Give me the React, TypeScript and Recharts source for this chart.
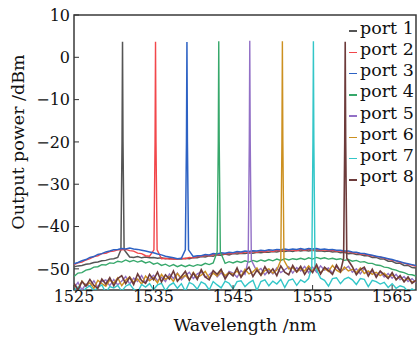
import { LineChart, Line, XAxis, YAxis, ReferenceArea } from "recharts";

// wavelength grid of the OSA traces (nm)
const wavelength = [
  1525, 1525.5, 1526, 1526.5, 1527, 1527.5, 1528, 1528.5, 1529, 1529.5,
  1530, 1530.5, 1531, 1531.5, 1532, 1532.5, 1533, 1533.5, 1534, 1534.5,
  1535, 1535.5, 1536, 1536.5, 1537, 1537.5, 1538, 1538.5, 1539, 1539.5,
  1540, 1540.5, 1541, 1541.5, 1542, 1542.5, 1543, 1543.5, 1544, 1544.5,
  1545, 1545.5, 1546, 1546.5, 1547, 1547.5, 1548, 1548.5, 1549, 1549.5,
  1550, 1550.5, 1551, 1551.5, 1552, 1552.5, 1553, 1553.5, 1554, 1554.5,
  1555, 1555.5, 1556, 1556.5, 1557, 1557.5, 1558, 1558.5, 1559, 1559.5,
  1560, 1560.5, 1561, 1561.5, 1562, 1562.5, 1563, 1563.5, 1564, 1564.5,
  1565, 1565.5, 1566, 1566.5, 1567, 1567.5, 1568,
];

const portNames = ["port 1", "port 2", "port 3", "port 4", "port 5", "port 6", "port 7", "port 8"];
const portColors = ["#555555", "#f2474b", "#2d62c4", "#37a86b", "#9270c6", "#cc9020", "#33c6c8", "#6d3b3b"];
const portWidth = [1.5, 1.4, 1.5, 1.4, 1.4, 1.4, 1.4, 1.6];

// lasing peaks
const peakWavelength = [1531.1, 1535.25, 1539.2, 1543.2, 1547.1, 1551.2, 1555.1, 1559.1];
const peakPower = [3.7, 3.7, 3.6, 3.8, 3.9, 3.8, 3.8, 3.7];
const peakSkirt = [-45.5, -45.5, -45.5, -46, -48, -48, -49.5, -47.5];
const peakMid = -20;

// noise floors (dBm), one value per wavelength point
const floorPort1 = [
  -49.5, -49.3, -49.2, -48.9, -48.8, -48.5, -48.4, -48.1, -48.0, -47.7,
  -47.6, -47.3, -47.3, -47.1, -47.2, -47.3, -47.1, -47.4, -47.2, -47.4,
  -47.3, -47.5, -47.4, -47.6, -47.5, -47.7, -47.6, -47.7, -47.5, -47.6,
  -47.3, -47.4, -47.1, -47.2, -46.9, -47.0, -46.7, -46.8, -46.5, -46.7,
  -46.4, -46.5, -46.3, -46.4, -46.2, -46.3, -46.1, -46.2, -46.0, -46.1,
  -45.9, -46.0, -45.8, -45.9, -45.7, -45.9, -45.6, -45.8, -45.6, -45.8,
  -45.6, -45.8, -45.7, -45.9, -45.8, -46.0, -45.9, -46.2, -46.1, -46.4,
  -46.3, -46.6, -46.6, -46.9, -46.9, -47.3, -47.3, -47.7, -47.7, -48.2,
  -48.2, -48.7, -48.7, -49.2, -49.2, -49.7, -49.8,
];
const floorPort2 = [
  -49.0, -48.6, -48.4, -47.9, -47.6, -47.1, -46.9, -46.4, -46.3, -45.9,
  -45.8, -45.5, -45.5, -45.4, -45.7, -45.8, -46.3, -46.4, -46.9, -47.0,
  -47.3, -47.4, -47.6, -47.5, -47.7, -47.6, -47.7, -47.5, -47.6, -47.3,
  -47.4, -47.1, -47.1, -46.8, -46.9, -46.6, -46.7, -46.4, -46.5, -46.3,
  -46.4, -46.1, -46.3, -46.0, -46.2, -45.9, -46.1, -45.8, -46.0, -45.7,
  -45.9, -45.6, -45.8, -45.5, -45.7, -45.5, -45.7, -45.4, -45.6, -45.4,
  -45.6, -45.4, -45.6, -45.5, -45.7, -45.6, -45.8, -45.8, -46.0, -46.0,
  -46.2, -46.2, -46.5, -46.5, -46.8, -46.9, -47.1, -47.2, -47.5, -47.7,
  -48.0, -48.1, -48.5, -48.6, -49.0, -49.1, -49.4,
];
const floorPort3 = [
  -48.8, -48.5, -48.1, -47.8, -47.3, -47.1, -46.6, -46.4, -46.0, -45.8,
  -45.5, -45.4, -45.2, -45.3, -45.1, -45.3, -45.4, -45.6, -45.8, -46.0,
  -46.2, -46.5, -46.7, -47.0, -47.2, -47.4, -47.6, -47.5, -47.6, -47.3,
  -47.1, -46.9, -46.9, -46.6, -46.7, -46.4, -46.5, -46.2, -46.3, -46.1,
  -46.2, -45.9, -46.0, -45.8, -45.9, -45.7, -45.8, -45.6, -45.7, -45.5,
  -45.6, -45.4, -45.5, -45.3, -45.5, -45.3, -45.4, -45.2, -45.4, -45.2,
  -45.3, -45.2, -45.4, -45.3, -45.5, -45.4, -45.6, -45.6, -45.8, -45.8,
  -46.0, -46.1, -46.3, -46.4, -46.6, -46.8, -47.0, -47.2, -47.4, -47.6,
  -47.8, -48.1, -48.3, -48.6, -48.8, -49.0, -49.2,
];
const floorPort4 = [
  -51.8, -51.0, -50.9, -50.3, -50.1, -49.6, -49.5, -49.0, -49.1, -48.6,
  -48.7, -48.2, -48.4, -47.9, -48.3, -48.0, -48.4, -48.1, -48.6, -48.3,
  -48.9, -48.6, -49.2, -48.9, -49.4, -49.0, -49.5, -49.1, -49.5, -49.1,
  -49.4, -49.0, -49.2, -48.7, -49.0, -48.6, -48.8, -48.5, -48.7, -48.3,
  -48.6, -48.2, -48.5, -48.1, -48.4, -48.0, -48.3, -47.9, -48.2, -47.8,
  -48.1, -47.7, -48.0, -47.6, -47.9, -47.6, -47.8, -47.5, -47.8, -47.4,
  -47.7, -47.3, -47.6, -47.4, -47.7, -47.5, -47.8, -47.6, -48.0, -47.8,
  -48.2, -48.0, -48.4, -48.3, -48.7, -48.7, -49.1, -49.2, -49.6, -49.7,
  -50.1, -50.3, -50.7, -50.9, -51.3, -51.4, -51.7,
];
const floorPort5 = [
  -54.5, -53.2, -55.0, -53.6, -54.2, -52.8, -54.4, -53.0, -52.6, -54.0,
  -52.5, -53.8, -52.9, -51.8, -53.6, -52.2, -53.0, -51.6, -53.2, -52.4,
  -51.5, -52.8, -52.0, -53.0, -51.2, -52.3, -51.0, -52.6, -51.6, -50.8,
  -52.3, -51.2, -50.7, -52.0, -51.4, -50.5, -51.9, -50.9, -52.1, -50.6,
  -51.0, -52.0, -50.4, -51.3, -50.2, -51.7, -50.6, -49.9, -51.4, -50.3,
  -51.2, -49.8, -50.9, -50.2, -49.5, -51.0, -49.7, -50.5, -49.4, -50.9,
  -49.6, -50.8, -49.3, -50.3, -49.8, -51.0, -49.5, -50.6, -50.1, -49.4,
  -50.8, -50.0, -51.2, -49.9, -51.0, -50.6, -51.5, -50.7, -51.9, -51.1,
  -52.2, -51.3, -52.6, -51.8, -53.0, -52.3, -53.2,
];
const floorPort6 = [
  -53.8, -54.7, -52.9, -54.0, -53.3, -54.6, -52.7, -53.5, -54.1, -52.6,
  -53.4, -52.1, -54.0, -52.7, -51.9, -53.2, -52.4, -53.6, -51.7, -52.8,
  -52.1, -53.3, -51.3, -52.5, -51.8, -53.0, -51.1, -52.2, -51.5, -52.6,
  -50.8, -52.0, -51.5, -50.6, -52.2, -51.0, -51.7, -50.4, -51.6, -50.9,
  -51.3, -50.5, -51.8, -50.1, -51.2, -50.7, -49.8, -51.5, -50.4, -50.0,
  -51.0, -50.3, -49.6, -51.2, -50.0, -49.7, -50.8, -49.9, -50.5, -49.3,
  -50.4, -49.7, -51.0, -49.9, -50.6, -49.2, -50.3, -50.9, -49.6, -50.5,
  -50.1, -50.9, -49.8, -51.1, -50.5, -51.3, -50.8, -51.6, -51.0, -51.9,
  -51.4, -52.4, -51.9, -52.8, -52.3, -53.1, -52.9,
];
const floorPort7 = [
  -55.0, -54.3, -55.5, -54.6, -54.0, -55.2, -54.4, -53.8, -55.6, -54.2,
  -54.5, -53.9, -55.3, -54.1, -53.6, -54.8, -55.5, -53.7, -54.3, -53.5,
  -54.9, -53.8, -53.4, -55.2, -53.9, -53.3, -54.6, -53.5, -55.3, -53.2,
  -53.7, -54.8, -53.1, -53.6, -55.0, -53.0, -53.8, -54.5, -52.9, -53.4,
  -54.7, -53.0, -52.8, -54.2, -53.3, -52.7, -55.1, -53.0, -52.6, -54.0,
  -52.9, -53.6, -52.5, -54.4, -52.7, -52.4, -53.9, -52.6, -53.2, -52.3,
  -52.5, -53.8, -52.2, -52.7, -54.1, -52.3, -52.1, -53.5, -52.4, -52.0,
  -52.6, -53.7, -52.3, -52.5, -54.2, -52.7, -53.0, -53.6, -53.2, -54.4,
  -53.5, -54.6, -54.0, -54.3, -55.4, -54.7, -55.3,
];
const floorPort8 = [
  -53.4, -55.0, -53.0, -54.1, -52.5, -53.9, -54.6, -52.4, -53.6, -52.1,
  -54.0, -52.3, -51.6, -53.5, -52.0, -53.7, -51.2, -52.8, -53.4, -51.3,
  -52.6, -50.8, -53.1, -51.4, -52.4, -50.5, -52.9, -51.8, -50.6, -52.7,
  -51.0, -52.5, -50.2, -51.9, -52.6, -50.4, -51.3, -50.1, -52.4, -50.9,
  -51.7, -49.8, -52.0, -50.6, -49.6, -51.8, -50.3, -51.5, -49.5, -51.1,
  -50.0, -51.6, -49.3, -50.8, -51.4, -49.2, -50.7, -49.4, -51.3, -49.8,
  -50.9, -49.0, -51.2, -49.6, -50.4, -51.3, -49.1, -50.6, -49.7, -51.0,
  -49.5, -51.4, -50.2, -49.6, -51.7, -50.1, -52.0, -50.5, -51.4, -52.3,
  -50.9, -52.6, -51.6, -53.1, -51.9, -53.4, -52.7,
];
const floors = [floorPort1, floorPort2, floorPort3, floorPort4, floorPort5, floorPort6, floorPort7, floorPort8];

const xTicks = [1525, 1535, 1545, 1555, 1565];
const yTicks = [-50, -40, -30, -20, -10, 0, 10];

const serif = "'DejaVu Serif', serif";

function buildTrace(i: number) {
  const pk = peakWavelength[i];
  const base = wavelength
    .map((x, j) => ({ x, y: floors[i][j] }))
    .filter((p) => Math.abs(p.x - pk) > 0.45);
  const peak = [
    { x: pk - 0.2, y: peakSkirt[i] },
    { x: pk - 0.06, y: peakMid },
    { x: pk, y: peakPower[i] },
    { x: pk + 0.06, y: peakMid },
    { x: pk + 0.2, y: peakSkirt[i] },
  ];
  return [...base, ...peak].sort((a, b) => a.x - b.x);
}

const traces = portNames.map((_, i) => buildTrace(i));

const minus = (v: number) => (v < 0 ? `\u2212${-v}` : `${v}`);

export default function App() {
  return (
    <div style={{ position: "absolute", left: 0, top: 0, width: 418, height: 340, background: "#fff" }}>
      <LineChart width={418} height={340} margin={{ top: 15, right: 2, bottom: 0, left: 0 }}>
        <XAxis
          type="number"
          dataKey="x"
          domain={[1525, 1568]}
          ticks={xTicks}
          interval={0}
          allowDataOverflow
          height={50}
          axisLine={false}
          tickSize={-5}
          tickMargin={6}
          tickLine={{ stroke: "#333" }}
          tick={{ fill: "#111", fontSize: 16, fontFamily: serif }}
        />
        <YAxis
          type="number"
          domain={[-55, 10]}
          ticks={yTicks}
          interval={0}
          allowDataOverflow
          width={74}
          axisLine={false}
          tickSize={-5}
          tickMargin={9}
          tickLine={{ stroke: "#333" }}
          tickFormatter={minus}
          tick={{ fill: "#111", fontSize: 16, fontFamily: serif }}
        />
        <ReferenceArea x1={1525} x2={1568} y1={-55} y2={10} fill="none" stroke="#3a3a3a" strokeWidth={1.5} />
        {traces.map((t, i) => (
          <Line
            key={portNames[i]}
            data={t}
            dataKey="y"
            name={portNames[i]}
            type="linear"
            stroke={portColors[i]}
            strokeWidth={portWidth[i]}
            dot={false}
            isAnimationActive={false}
          />
        ))}
        <text x={245} y={331} textAnchor="middle" fontSize={17.5} fontFamily={serif} fill="#111">
          Wavelength /nm
        </text>
        <text
          x={24}
          y={142}
          textAnchor="middle"
          fontSize={17.5}
          fontFamily={serif}
          fill="#111"
          transform="rotate(-90 24 142)"
        >
          Output power /dBm
        </text>
      </LineChart>
      <div style={{ position: "absolute", left: 349, top: 17, fontFamily: serif, fontSize: 17.5, color: "#111" }}>
        {portNames.map((n, i) => (
          <div key={n} style={{ display: "flex", alignItems: "center", height: 21.25, whiteSpace: "nowrap" }}>
            <span
              style={{
                display: "inline-block",
                width: 8,
                height: 1.5,
                background: portColors[i],
                marginTop: 7,
                marginRight: 3,
              }}
            />
            <span>{n}</span>
          </div>
        ))}
      </div>
    </div>
  );
}
